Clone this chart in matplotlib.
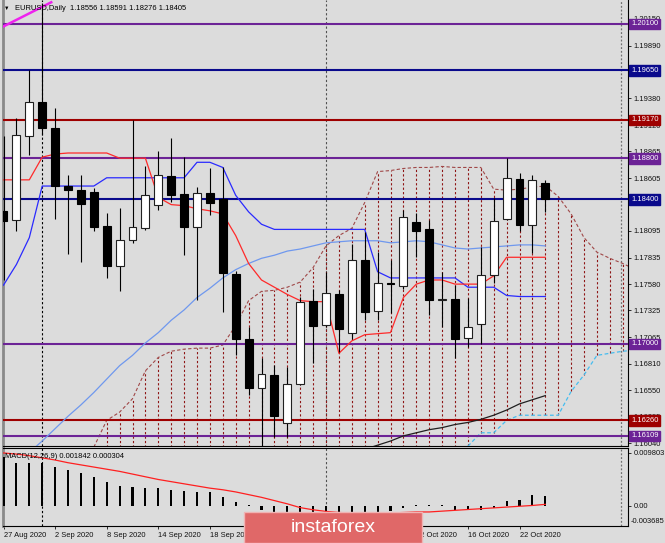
import numpy as np
import matplotlib.pyplot as plt
from matplotlib.patches import Rectangle
from matplotlib.transforms import blended_transform_factory

plt.rcParams['font.family'] = ['Liberation Sans', 'DejaVu Sans']

# ---- values (EURUSD daily, 27 Aug - 26 Oct 2020) ----
# labels under the watermark are hidden in the original, so they stay blank
date_labels = ['27 Aug 2020', '2 Sep 2020', '8 Sep 2020', '14 Sep 2020', '18 Sep 2020',
               '', '', '', '12 Oct 2020', '16 Oct 2020', '22 Oct 2020']
date_pos = [0, 4, 8, 12, 16, 20, 24, 28, 32, 36, 40]
month_starts = [3, 25]

opens = [1.1829, 1.1820, 1.1901, 1.1934, 1.1909, 1.1853, 1.1849, 1.1847, 1.1814, 1.1776,
         1.1801, 1.1812, 1.1835, 1.1863, 1.1845, 1.1813, 1.1846, 1.1840, 1.1768, 1.1705,
         1.1657, 1.1670, 1.1623, 1.1661, 1.1742, 1.1718, 1.1748, 1.1711, 1.1781, 1.1732,
         1.1759, 1.1756, 1.1818, 1.1811, 1.1743, 1.1744, 1.1706, 1.1719, 1.1767, 1.1821,
         1.1860, 1.1815, 1.18556]
highs = [1.1901, 1.1919, 1.1965, 1.2030, 1.1929, 1.1864, 1.1864, 1.1851, 1.1827, 1.1832,
         1.1917, 1.1872, 1.1887, 1.1900, 1.1881, 1.1852, 1.1870, 1.1871, 1.1771, 1.1716,
         1.1686, 1.1680, 1.1678, 1.1746, 1.1753, 1.1770, 1.1752, 1.1797, 1.1808, 1.1789,
         1.1781, 1.1830, 1.1827, 1.1820, 1.1770, 1.1757, 1.1745, 1.1794, 1.1841, 1.1880,
         1.1866, 1.1864, 1.18591]
lows = [1.1762, 1.1809, 1.1883, 1.1902, 1.1821, 1.1787, 1.1779, 1.1809, 1.1764, 1.1751,
        1.1798, 1.1810, 1.1830, 1.1838, 1.1786, 1.1743, 1.1825, 1.1731, 1.1689, 1.1651,
        1.1600, 1.1610, 1.1610, 1.1660, 1.1682, 1.1716, 1.1692, 1.1705, 1.1723, 1.1723,
        1.1730, 1.1753, 1.1784, 1.1728, 1.1716, 1.1686, 1.1697, 1.1700, 1.1759, 1.1820,
        1.1809, 1.1788, 1.18276]
closes = [1.1819, 1.1902, 1.1934, 1.1909, 1.1853, 1.1849, 1.1836, 1.1813, 1.1776, 1.1801,
          1.1813, 1.1844, 1.1864, 1.1844, 1.1813, 1.1846, 1.1837, 1.1769, 1.1705, 1.1657,
          1.1671, 1.1630, 1.1661, 1.1741, 1.1717, 1.1749, 1.1715, 1.1781, 1.1731, 1.1759,
          1.1758, 1.1823, 1.1809, 1.1743, 1.1744, 1.1705, 1.1716, 1.1767, 1.1819, 1.1861,
          1.1815, 1.1859, 1.18405]

tenkan = [1.1859, 1.1859, 1.1859, 1.1881, 1.1884, 1.1885, 1.1885, 1.1885, 1.1885, 1.1880,
          1.1880, 1.1880, 1.1842, 1.1835, 1.1834, 1.1831, 1.1829, 1.1826, 1.1805, 1.1778,
          1.1762, 1.1755, 1.1748, 1.1742, 1.1741, 1.1741, 1.1691, 1.1703, 1.1709, 1.1710,
          1.1711, 1.1745, 1.1758, 1.1762, 1.1762, 1.1758, 1.1758, 1.1758, 1.1766, 1.1784,
          1.1784, 1.1784, 1.1784]
kijun = [1.1757, 1.1777, 1.1803, 1.1853, 1.1853, 1.1853, 1.1853, 1.1853, 1.1861, 1.1861,
         1.1861, 1.1861, 1.1861, 1.1861, 1.1861, 1.1876, 1.1876, 1.1871, 1.1844, 1.1828,
         1.1816, 1.1811, 1.1811, 1.1811, 1.1811, 1.1811, 1.1811, 1.1811, 1.1811, 1.1770,
         1.1764, 1.1764, 1.1764, 1.1764, 1.1764, 1.1764, 1.1755, 1.1755, 1.1755, 1.1747,
         1.1746, 1.1746, 1.1746]
ma_blue = [1.1572, 1.1584, 1.1595, 1.1606, 1.1618, 1.1630, 1.1641, 1.1653, 1.1666, 1.1679,
           1.1689, 1.1701, 1.1711, 1.1723, 1.1733, 1.1745, 1.1754, 1.1764, 1.1772, 1.1778,
           1.1783, 1.1786, 1.1790, 1.1792, 1.1795, 1.1798, 1.1799, 1.1800, 1.1800, 1.1800,
           1.1798, 1.1799, 1.1800, 1.1799, 1.1796, 1.1793, 1.1792, 1.1793, 1.1794, 1.1795,
           1.1796, 1.1796, 1.1795]
ma_black_start = 27
ma_black = [1.1594, 1.1598, 1.1602, 1.1606, 1.1611, 1.1614, 1.1617, 1.1619, 1.1622,
            1.1624, 1.1627, 1.1631, 1.1636, 1.1642, 1.1646, 1.1650]

cloud_start = 7
span_a = [1.1600, 1.1626, 1.1634, 1.1647, 1.1674, 1.1687, 1.1693, 1.1695, 1.1696, 1.1696,
          1.1699, 1.1718, 1.1742, 1.1751, 1.1752, 1.1755, 1.1760, 1.1774, 1.1795, 1.1805,
          1.1812, 1.1837, 1.1867, 1.1868, 1.1870, 1.1871, 1.1871, 1.1872, 1.1871, 1.1871,
          1.1871, 1.1850, 1.1849, 1.1850, 1.1852, 1.1853, 1.1843, 1.1826, 1.1803, 1.1789,
          1.1783, 1.1778, 1.1772]
span_b = [np.nan] * 29 + [1.1601, 1.1614, 1.1614, 1.1626, 1.1631, 1.1631, 1.1631, 1.1631,
                          1.1654, 1.1670, 1.1689, 1.1691, 1.1693, 1.1694]

trend_x = [-0.1, 3.7]
trend_y = [1.2007, 1.2031]

levels = [1.20100, 1.19650, 1.19170, 1.18800, 1.18400, 1.17000, 1.16260, 1.16109]
level_kind = ['purple', 'navy', 'red', 'purple', 'navy', 'purple', 'red', 'purple']
# 1.19635 and 1.18350 sit fully under level boxes in the original
price_ticks = [1.20150, 1.19890, 1.19635, 1.19380, 1.19120, 1.18865, 1.18605, 1.18350,
               1.18095, 1.17835, 1.17580, 1.17325, 1.17065, 1.16810, 1.16550, 1.16295, 1.16040]
hidden_ticks = [1.19635, 1.18350]

macd_main = [0.00906, 0.00795, 0.00795, 0.00795, 0.00721, 0.00665, 0.00610, 0.00536, 0.00444,
             0.00370, 0.00350, 0.00333, 0.00333, 0.00296, 0.00277, 0.00259, 0.00259, 0.00166,
             0.00074, 0.00020, -0.0008, -0.0016, -0.0020, -0.0022, -0.0023, -0.0022, -0.0021,
             -0.0017, -0.0015, -0.0012, -0.0010, -0.0004, 0.0002, 0.0001, 0.0001, -0.0007,
             -0.0008, -0.0007, -0.0004, 0.0010, 0.0011, 0.0020, 0.001842]
macd_signal = [0.0098, 0.0096, 0.0093, 0.0089, 0.0085, 0.0080, 0.0076, 0.0072, 0.0068, 0.0064,
               0.0059, 0.0054, 0.0049, 0.0045, 0.0041, 0.0037, 0.0033, 0.0030, 0.0026, 0.0021,
               0.0016, 0.0010, 0.0004, -0.0003, -0.0007, -0.0010, -0.0012, -0.0013, -0.0014,
               -0.0014, -0.0013, -0.0012, -0.0011, -0.0011, -0.00095, -0.0008, -0.00065,
               -0.0005, -0.00035, -0.0002, -0.00005, 0.0001, 0.000304]

# ---- styling ----
BG = '#dcdcdc'
COLORS = {'purple': '#6c2396', 'navy': '#0a0a8c', 'red': '#9e0000'}
FS = 5.4
W, H = 665, 543
PX = 12.9  # pixels per bar

fig = plt.figure(figsize=(W / 100, H / 100), dpi=100, facecolor=BG)
ax = fig.add_axes([3 / W, 1 - 446 / H, 625 / W, 446 / H], facecolor=BG)
ax2 = fig.add_axes([3 / W, 1 - 526 / H, 625 / W, 78 / H], facecolor=BG)

xlim = (-0.5 / PX, (628 - 3.5) / PX)
ylim = (1.16012, 1.20332)

x = np.arange(len(opens))
o, h, l, c = map(np.array, (opens, highs, lows, closes))

# horizontal levels
for lv, kind in zip(levels, level_kind):
    ax.axhline(lv, color=COLORS[kind], lw=1.5, zorder=3)

# ichimoku cloud
ic = np.arange(cloud_start, cloud_start + len(span_a))
sb = np.array(span_b)
hatch_bottom = np.where(np.isnan(sb), ylim[0] - 0.001, sb)
ax.vlines(ic, hatch_bottom, span_a, color='#8e1414', ls=(0, (2, 2)), lw=0.8, zorder=2)
ax.plot(ic, span_a, color='#a04848', ls=(0, (3, 2)), lw=0.8, zorder=2)
ax.plot(ic, sb, color='#45bdf0', ls=(0, (3, 2)), lw=0.9, zorder=2)

# moving averages / ichimoku lines
ax.plot(x, ma_blue, color='#6f98ee', lw=0.9, zorder=4)
ax.plot(np.arange(ma_black_start, ma_black_start + len(ma_black)), ma_black,
        color='#202020', lw=0.9, zorder=4)
ax.plot(x, kijun, color='#2a2aff', lw=0.9, zorder=4)
ax.plot(x, tenkan, color='#ff2a2a', lw=0.9, zorder=4)
ax.plot(trend_x, trend_y, color='#ee22ee', lw=1.8, zorder=4)

# candles
ax.vlines(x, l, h, color='black', lw=0.8, zorder=5)
up = c >= o
ax.bar(x[up], c[up] - o[up], bottom=o[up], width=0.62, color='white',
       edgecolor='#202020', lw=0.8, zorder=6)
ax.bar(x[~up], o[~up] - c[~up], bottom=c[~up], width=0.62, color='black',
       edgecolor='black', lw=0.8, zorder=6)

# separators and chart shift
for a in (ax, ax2):
    a.axvline(month_starts[0], color='black', ls=(0, (2, 2)), lw=0.8, zorder=1)
    a.axvline(month_starts[1], color='#505050', ls=(0, (2, 2)), lw=0.8, zorder=1)
    a.axvline(47.9, color='#707070', ls=(0, (1.5, 1.5)), lw=0.9, zorder=1)

ax.set_xlim(*xlim)
ax.set_ylim(*ylim)
ax.set_xticks([])
ax.yaxis.tick_right()
ax.set_yticks(price_ticks)
ax.set_yticklabels(['' if v in hidden_ticks else f'{v:.5f}' for v in price_ticks])
ax.tick_params(axis='y', direction='out', length=2.5, width=0.6, pad=1.5,
               labelsize=FS, colors='#101010')

trans = blended_transform_factory(ax.transAxes, ax.transData)
for lv, kind in zip(levels, level_kind):
    ax.text(1.0048, lv, f'{lv:.5f}', transform=trans, color='white', fontsize=FS,
            va='center', ha='left', clip_on=False, zorder=10,
            bbox=dict(boxstyle='square,pad=0.25', fc=COLORS[kind], ec=COLORS[kind]))

# MACD panel
ax2.bar(x, macd_main, width=0.16, color='black', zorder=3)
ax2.plot(x, macd_signal, color='#ff2020', lw=0.9, zorder=4)
ax2.set_xlim(*xlim)
ax2.set_ylim(-0.003697, 0.01072)
ax2.yaxis.tick_right()
ax2.set_yticks([0.009803, 0.0])
ax2.set_yticklabels(['0.009803', '0.00'])
ax2.tick_params(axis='y', direction='out', length=2.5, width=0.6, pad=1.5,
                labelsize=FS, colors='#101010')
ax2.text(1.0048, -0.0029, '-0.003685', transform=blended_transform_factory(ax2.transAxes, ax2.transData),
         fontsize=FS, va='center', ha='left', color='#101010', clip_on=False)
ax2.set_xticks(date_pos)
ax2.set_xticklabels(date_labels, ha='left')
ax2.tick_params(axis='x', direction='out', length=2.5, width=0.6, pad=2,
                labelsize=FS, colors='#101010')

for a in (ax, ax2):
    for side in ('right', 'bottom', 'top'):
        a.spines[side].set_color('black')
        a.spines[side].set_linewidth(0.8)
    a.spines['left'].set_color('#8a8a8a')
    a.spines['left'].set_linewidth(2)
ax.spines['top'].set_visible(False)

# header texts
fig.text(7 / W, 1 - 8 / H, '\u25bc', fontsize=4, va='center', ha='center', color='black')
fig.text(15 / W, 1 - 8 / H, 'EURUSD,Daily  1.18556 1.18591 1.18276 1.18405',
         fontsize=FS, va='center', ha='left', color='black')
fig.text(5 / W, 1 - 457 / H, 'MACD(12,26,9) 0.001842 0.000304',
         fontsize=FS, va='center', ha='left', color='black')

# watermark
fig.add_artist(Rectangle((244 / W, 0), (422 - 244) / W, 31 / H, transform=fig.transFigure,
                         fc='#e06868', ec='#f0b4b4', lw=1, zorder=20))
fig.text(333 / W, 1 - 528 / H, 'instaforex', color='white', fontsize=14,
         ha='center', va='center', zorder=21)

fig.savefig('out.png', dpi=100, facecolor=BG)
